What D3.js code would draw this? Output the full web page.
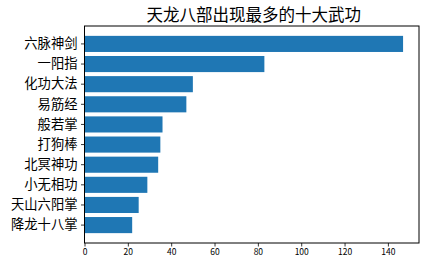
<!DOCTYPE html>
<html>
<head>
<meta charset="utf-8">
<script src="https://cdn.jsdelivr.net/npm/d3@7/dist/d3.min.js"></script>
<style>
  html, body { margin: 0; padding: 0; background: #fff; }
  svg { display: block; }
  text { font-family: "Noto Sans CJK SC", "DejaVu Sans", sans-serif; fill: #000; }
</style>
</head>
<body>
<svg id="chart" width="429" height="266"></svg>
<script>
// Top ten martial arts by mention count, listed from most to least
const categories = ["六脉神剑", "一阳指", "化功大法", "易筋经", "般若掌", "打狗棒", "北冥神功", "小无相功", "天山六阳掌", "降龙十八掌"];
const counts = [147, 83, 50, 47, 36, 35, 34, 29, 25, 22];
const xTicks = [0, 20, 40, 60, 80, 100, 120, 140];
const title = "天龙八部出现最多的十大武功";

const svg = d3.select("#chart");
const margin = { top: 26, right: 10, bottom: 23, left: 84.5 };
const width = 429 - margin.left - margin.right;
const height = 266 - margin.top - margin.bottom;

const xMax = d3.max(counts) * 1.05;
const x = d3.scaleLinear().domain([0, xMax]).range([0, width]);
const y = d3.scaleBand().domain(categories).range([0, height])
  .paddingInner(0.2).paddingOuter(0.49);

const g = svg.append("g").attr("transform", `translate(${margin.left},${margin.top})`);

// Bars
g.selectAll("rect.bar")
  .data(categories.map((c, i) => ({ c, v: counts[i] })))
  .join("rect")
  .attr("class", "bar")
  .attr("x", x(0))
  .attr("y", d => y(d.c))
  .attr("width", d => x(d.v) - x(0))
  .attr("height", y.bandwidth())
  .attr("fill", "#1f77b4");

// X axis
const xAxis = g.append("g")
  .attr("transform", `translate(0,${height})`)
  .call(d3.axisBottom(x).tickValues(xTicks).tickSize(3.5).tickPadding(2.5).tickSizeOuter(0));
xAxis.select(".domain").remove();
xAxis.selectAll("text").style("font-size", "8.5px").style("font-family", "\"Noto Sans CJK SC\", sans-serif");
xAxis.selectAll("line").attr("stroke", "#000").attr("stroke-width", 0.8);

// Y axis
const yAxis = g.append("g")
  .call(d3.axisLeft(y).tickSize(3.5).tickPadding(3.5).tickSizeOuter(0));
yAxis.select(".domain").remove();
yAxis.selectAll("text").style("font-size", "13.3px");
yAxis.selectAll("line").attr("stroke", "#000").attr("stroke-width", 0.8);

// Frame around plot area
g.append("rect")
  .attr("x", 0).attr("y", 0)
  .attr("width", width).attr("height", height)
  .attr("fill", "none").attr("stroke", "#000").attr("stroke-width", 1);

// Title
svg.append("text")
  .attr("x", margin.left + width / 2 + 2)
  .attr("y", 21)
  .attr("text-anchor", "middle")
  .style("font-size", "16.5px")
  .text(title);
</script>
</body>
</html>
